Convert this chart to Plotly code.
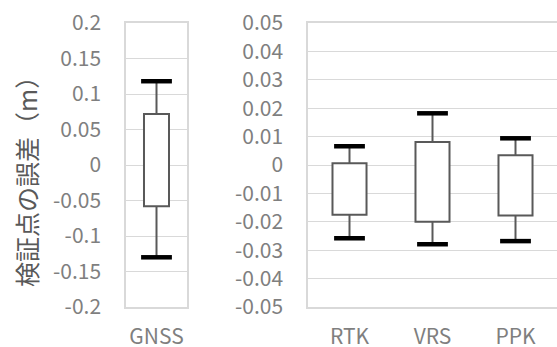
import plotly.graph_objects as go

# ---- data ----
gnss_categories = ["GNSS"]
gnss_box_top = [0.072]
gnss_box_bottom = [-0.058]
gnss_whisker_high = [0.118]
gnss_whisker_low = [-0.130]

rel_categories = ["RTK", "VRS", "PPK"]
rel_box_top = [0.0006, 0.0081, 0.0034]
rel_box_bottom = [-0.0175, -0.0200, -0.0178]
rel_whisker_high = [0.0066, 0.0182, 0.0094]
rel_whisker_low = [-0.0258, -0.0279, -0.0268]

gnss_tick_vals = [0.2, 0.15, 0.1, 0.05, 0, -0.05, -0.1, -0.15, -0.2]
gnss_tick_text = ["0.2", "0.15", "0.1", "0.05", "0", "-0.05", "-0.1", "-0.15", "-0.2"]
rel_tick_vals = [0.05, 0.04, 0.03, 0.02, 0.01, 0, -0.01, -0.02, -0.03, -0.04, -0.05]
rel_tick_text = ["0.05", "0.04", "0.03", "0.02", "0.01", "0", "-0.01", "-0.02", "-0.03", "-0.04", "-0.05"]

y_title = "検証点の誤差（m）"

# ---- styling ----
W, H = 557, 347
FONT = "Noto Sans CJK JP"
BOX_LINE = "#595959"
GRID = "#d9d9d9"
TICK_COLOR = "#7f7f7f"
BAR_W = 0.41

fig = go.Figure()


def add_panel(cats, top, bottom, hi, lo, xa, ya):
    # visible box, whisker up from the top
    fig.add_trace(go.Bar(
        x=cats, y=[t - b for t, b in zip(top, bottom)], base=bottom,
        width=BAR_W, xaxis=xa, yaxis=ya,
        marker=dict(color="white", line=dict(color=BOX_LINE, width=2)),
        error_y=dict(type="data", symmetric=False,
                     array=[h - t for h, t in zip(hi, top)],
                     arrayminus=[0] * len(cats),
                     color=BOX_LINE, thickness=2, width=0),
        showlegend=False, hoverinfo="skip"))
    # transparent bar ending at box bottom, whisker down
    fig.add_trace(go.Bar(
        x=cats, y=[b - t for t, b in zip(top, bottom)], base=top,
        width=BAR_W, xaxis=xa, yaxis=ya,
        marker=dict(color="rgba(0,0,0,0)", line=dict(width=0)),
        error_y=dict(type="data", symmetric=False,
                     array=[0] * len(cats),
                     arrayminus=[b - l for b, l in zip(bottom, lo)],
                     color=BOX_LINE, thickness=2, width=0),
        showlegend=False, hoverinfo="skip"))
    # caps
    fig.add_trace(go.Scatter(
        x=cats + cats, y=hi + lo, mode="markers", xaxis=xa, yaxis=ya,
        marker=dict(symbol="line-ew", size=22, color="black",
                    line=dict(color="black", width=4.5)),
        showlegend=False, hoverinfo="skip", cliponaxis=False))


add_panel(gnss_categories, gnss_box_top, gnss_box_bottom,
          gnss_whisker_high, gnss_whisker_low, "x", "y")
add_panel(rel_categories, rel_box_top, rel_box_bottom,
          rel_whisker_high, rel_whisker_low, "x2", "y2")

axis_common = dict(showline=True, mirror=True, linecolor=GRID, linewidth=1.5,
                   ticks="", fixedrange=True, automargin=False)
tickfont = dict(family=FONT, size=21, color=TICK_COLOR)

fig.update_layout(
    width=W, height=H,
    margin=dict(l=0, r=0, t=23, b=40, autoexpand=False),
    paper_bgcolor="white", plot_bgcolor="white",
    barmode="overlay",
    font=dict(family=FONT),
    xaxis=dict(domain=[126 / W, 187 / W], tickfont=tickfont,
               ticklabelstandoff=10, **axis_common),
    yaxis=dict(range=[-0.2, 0.2], tickvals=gnss_tick_vals, ticktext=gnss_tick_text,
               showgrid=True, gridcolor=GRID, gridwidth=1.3, zeroline=False,
               tickfont=tickfont, ticklabelstandoff=19, **axis_common),
    xaxis2=dict(domain=[308 / W, 1.0], tickfont=tickfont, anchor="y2",
                ticklabelstandoff=10, **axis_common),
    yaxis2=dict(range=[-0.05, 0.05], tickvals=rel_tick_vals, ticktext=rel_tick_text,
                showgrid=True, gridcolor=GRID, gridwidth=1.3, zeroline=False,
                anchor="x2", tickfont=tickfont, ticklabelstandoff=19, **axis_common),
    annotations=[dict(text=y_title, textangle=-90, xref="paper", yref="paper",
                      x=26 / W, y=(307 - 176) / 284, xanchor="center", yanchor="middle",
                      showarrow=False,
                      font=dict(family=FONT, size=25, color=BOX_LINE))],
)

fig.write_html(
    "out.html",
    config={"displayModeBar": False},
    post_script="document.body.style.margin='0';document.body.style.overflow='hidden';",
)
